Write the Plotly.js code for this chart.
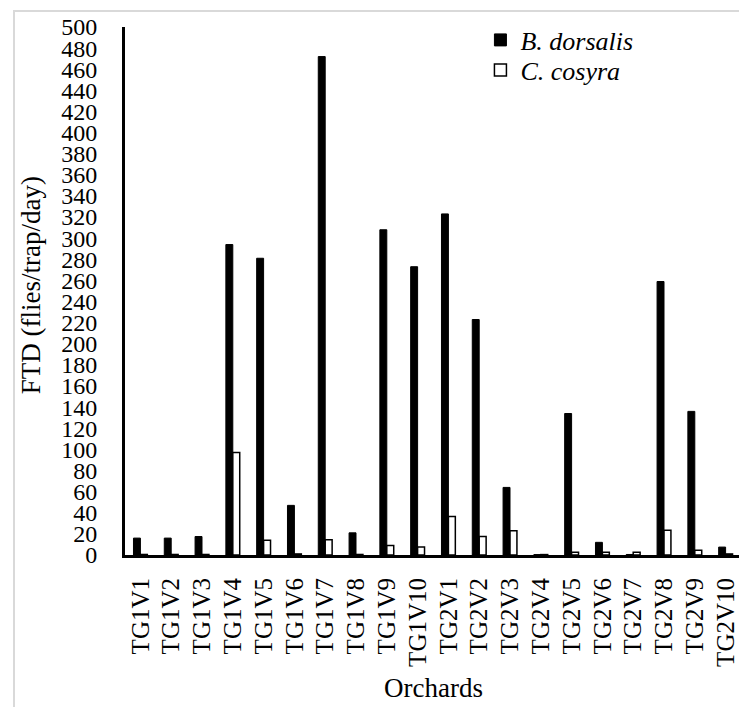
<!DOCTYPE html>
<html>
<head>
<meta charset="utf-8">
<script src="https://cdn.plot.ly/plotly-3.0.1.min.js"></script>
<style>
  html, body { margin: 0; padding: 0; width: 739px; height: 707px; overflow: hidden; background: #fff; }
  #frame { position: absolute; left: 13px; top: 10px; width: 760px; height: 720px;
           border-top: 2px solid #d9d9d9; border-left: 2px solid #d9d9d9; pointer-events: none; z-index: 5; }
  #chart { position: absolute; left: 0; top: 0; }
</style>
</head>
<body>
<div id="chart"></div>
<div id="frame"></div>
<script>
const orchards = ["TG1V1","TG1V2","TG1V3","TG1V4","TG1V5","TG1V6","TG1V7","TG1V8","TG1V9","TG1V10",
                  "TG2V1","TG2V2","TG2V3","TG2V4","TG2V5","TG2V6","TG2V7","TG2V8","TG2V9","TG2V10"];
const bDorsalis = [16, 16, 17.5, 294, 281, 47, 472, 21, 308, 273, 323, 223, 64, 0.4, 134, 12, 0.5, 259, 136, 7.5];
const cCosyra  = [0.5, 0.5, 0.5, 97, 14, 1, 14.5, 0.5, 9, 7.5, 36.5, 17.5, 23, 0.4, 2.5, 2.5, 2.5, 23.5, 4.5, 1];
const yTicks = [0,20,40,60,80,100,120,140,160,180,200,220,240,260,280,300,320,340,360,380,400,420,440,460,480,500];

const FONT = "Liberation Serif";

const traces = [
  { type: "bar", name: "<i>B. dorsalis</i>", x: orchards, y: bDorsalis, legend: "legend",
    marker: { color: "#000000", line: { color: "#000000", width: 1 } } },
  { type: "bar", name: "<i>C. cosyra</i>", x: orchards, y: cCosyra, legend: "legend2",
    marker: { color: "#ffffff", line: { color: "#000000", width: 1.5 } } }
];

const legendBase = { xanchor: "left", yanchor: "middle",
  font: { family: FONT, size: 26, color: "#000" },
  bgcolor: "rgba(0,0,0,0)", itemwidth: 30, borderwidth: 0 };

const layout = {
  width: 741, height: 707,
  margin: { l: 125, r: 0, t: 27, b: 152 },
  paper_bgcolor: "rgba(0,0,0,0)", plot_bgcolor: "rgba(0,0,0,0)",
  font: { family: FONT, size: 24, color: "#000" },
  barmode: "group", bargap: 0.55, bargroupgap: 0,
  showlegend: true,
  legend: Object.assign({}, legendBase, { x: 0.577, y: (555 - 40) / 528 }),
  legend2: Object.assign({}, legendBase, { x: 0.577, y: (555 - 70) / 528 }),
  xaxis: { type: "category", tickangle: -90, showline: true, linecolor: "#000", linewidth: 3,
           ticks: "", showgrid: false, zeroline: false,
           tickfont: { family: FONT, size: 25, color: "#000" }, ticklabelstandoff: 10 },
  yaxis: { range: [0, 500], tickvals: yTicks, ticktext: yTicks.map(String),
           showline: true, linecolor: "#000", linewidth: 3, ticks: "",
           showgrid: false, zeroline: false,
           tickfont: { family: FONT, size: 24, color: "#000" }, ticklabelstandoff: 20 },
  annotations: [
    { text: "Orchards", xref: "paper", yref: "paper", x: 0.5, y: -0.252,
      xanchor: "center", yanchor: "middle", showarrow: false,
      font: { family: FONT, size: 27, color: "#000" } },
    { text: "FTD (flies/trap/day)", xref: "paper", yref: "paper", x: -0.1526, y: 0.511,
      xanchor: "center", yanchor: "middle", textangle: -90, showarrow: false,
      font: { family: FONT, size: 27, color: "#000" } }
  ]
};

Plotly.newPlot("chart", traces, layout, { displayModeBar: false, staticPlot: true });
</script>
</body>
</html>
